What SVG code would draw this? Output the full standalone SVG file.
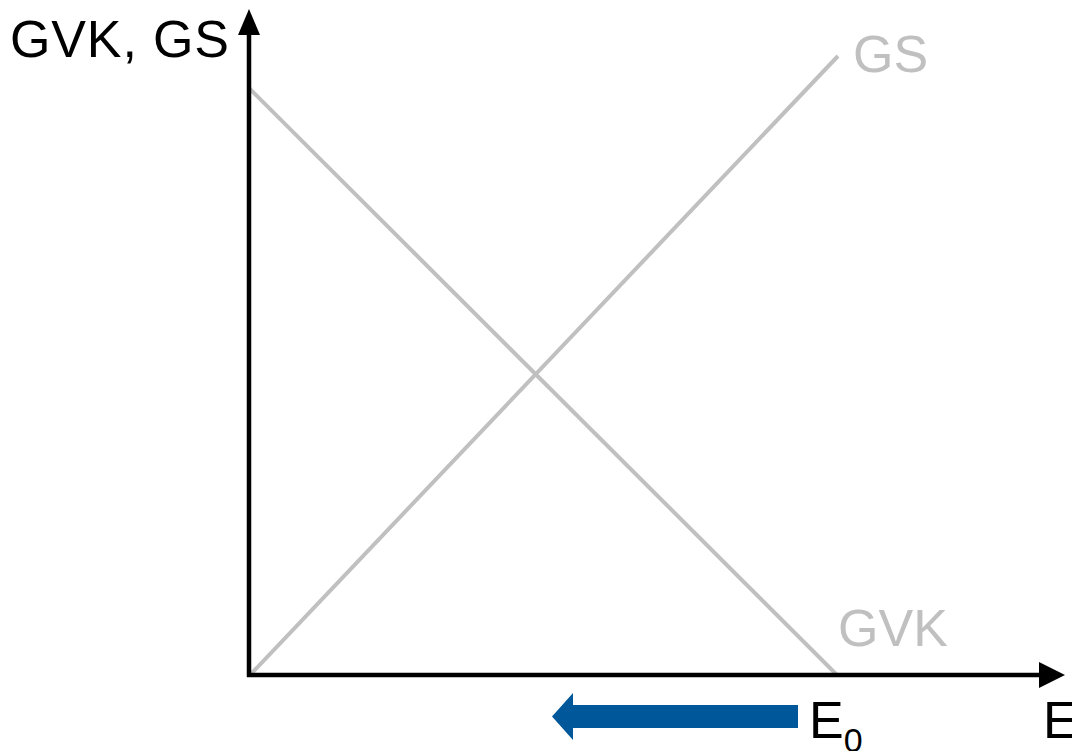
<svg xmlns="http://www.w3.org/2000/svg" width="1072" height="751" viewBox="0 0 1072 751">
  <style>
    .lbl { font-family: "Liberation Sans", Arial, sans-serif; font-size: 52px; }
    .axis { stroke: #000; stroke-width: 4.5; fill: none; }
    .curve { stroke: #c0c0c0; stroke-width: 4; fill: none; }
    .gray { fill: #c0c0c0; }
  </style>
  <defs>
    <marker id="ah" markerUnits="userSpaceOnUse" markerWidth="26" markerHeight="26" refX="0" refY="13" orient="auto" viewBox="0 0 26 26">
      <path d="M0,0 L26,13 L0,26 Z" fill="#000"/>
    </marker>
    <marker id="ah-up" markerUnits="userSpaceOnUse" markerWidth="26" markerHeight="22" refX="0" refY="11" orient="auto" viewBox="0 0 26 22">
      <path d="M0,0 L26,11 L0,22 Z" fill="#000"/>
    </marker>
  </defs>
  <rect width="1072" height="751" fill="#fff"/>
  <g id="curves">
    <line id="gvk-line" class="curve" x1="249" y1="88" x2="837" y2="675"/>
    <line id="gs-line" class="curve" x1="250" y1="675" x2="838" y2="56"/>
  </g>
  <g id="axes">
    <line id="y-axis" class="axis" x1="249" y1="677" x2="249" y2="35" marker-end="url(#ah-up)"/>
    <line id="x-axis" class="axis" x1="247" y1="675" x2="1039" y2="675" marker-end="url(#ah)"/>
  </g>
  <g id="labels">
    <text id="y-label" class="lbl" x="10" y="57" textLength="219">GVK, GS</text>
    <text id="gs-label" class="lbl gray" x="853" y="72">GS</text>
    <text id="gvk-label" class="lbl gray" x="838" y="646">GVK</text>
    <text id="e0-label" class="lbl" x="809" y="738">E<tspan font-size="34" dy="14">0</tspan></text>
    <text id="e-label" class="lbl" x="1043" y="738">E</text>
  </g>
  <g id="shift-arrow">
    <path d="M798,705 L573,705 L573,693 L552,716.5 L573,740 L573,728 L798,728 Z" fill="#00589a"/>
  </g>
</svg>
